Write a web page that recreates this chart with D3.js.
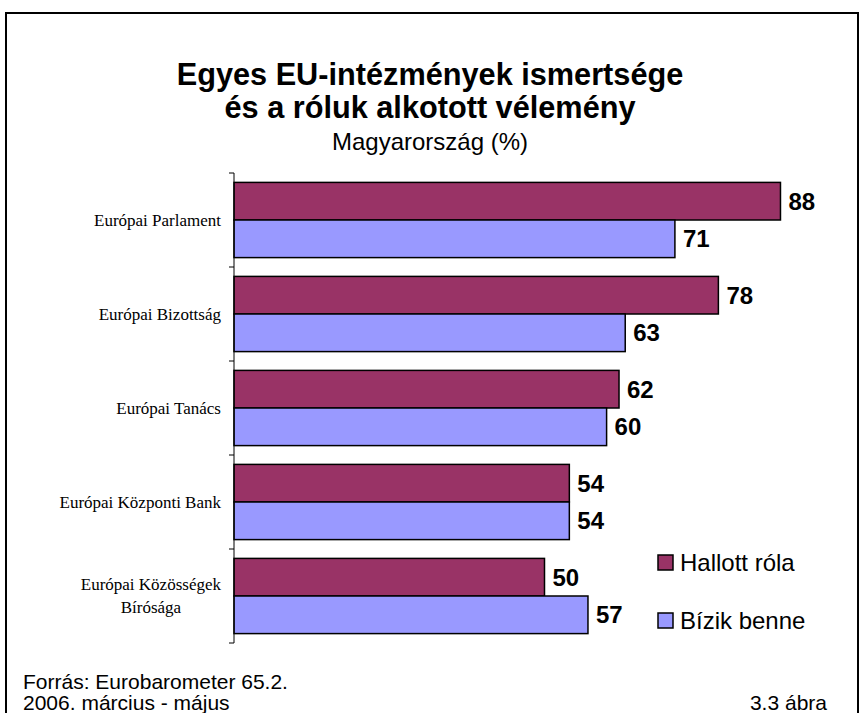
<!DOCTYPE html>
<html><head><meta charset="utf-8">
<script src="https://cdn.jsdelivr.net/npm/d3@7"></script>
<style>body{margin:0;background:#fff}svg{display:block}</style>
</head><body>
<script>
const categories = [["Európai Parlament"],["Európai Bizottság"],["Európai Tanács"],["Európai Központi Bank"],["Európai Közösségek","Bírósága"]];
const seriesNames = ["Hallott róla","Bízik benne"];
const hallott = [88,78,62,54,50];
const bizik = [71,63,60,54,57];
const colors = ["#993366","#9999FF"];

const W=859,H=713;
const sans="Liberation Sans, Arial, sans-serif";
const svg=d3.select("body").append("svg").attr("width",W).attr("height",H);
svg.append("rect").attr("x",6).attr("y",13).attr("width",852).attr("height",720)
  .attr("fill","#fff").attr("stroke","#000").attr("stroke-width",2);

const title=svg.append("g").attr("font-family",sans).attr("text-anchor","middle");
title.append("text").attr("x",430).attr("y",85).attr("font-size",30.7).attr("font-weight","bold").text("Egyes EU-intézmények ismertsége");
title.append("text").attr("x",430).attr("y",118).attr("font-size",30.7).attr("font-weight","bold").text("és a róluk alkotott vélemény");
title.append("text").attr("x",430).attr("y",150).attr("font-size",24).text("Magyarország (%)");

const x=d3.scaleLinear().domain([0,100]).range([234,855]);
const y=d3.scaleBand().domain(d3.range(categories.length)).range([173,643]).paddingInner(0.2).paddingOuter(0.1);
const yAxis=d3.scaleBand().domain(d3.range(categories.length)).range([173,643]);
const sub=d3.scaleBand().domain([0,1]).range([0,y.bandwidth()]);

const data=categories.map((c,i)=>({i,vals:[hallott[i],bizik[i]]}));
const g=svg.append("g");
data.forEach(d=>{
  d.vals.forEach((v,s)=>{
    g.append("rect").attr("x",x(0)).attr("y",y(d.i)+sub(s))
      .attr("width",x(v)-x(0)).attr("height",sub.bandwidth())
      .attr("fill",colors[s]).attr("stroke","#000").attr("stroke-width",1.5);
    g.append("text").attr("x",x(v)+8).attr("y",y(d.i)+sub(s)+sub.bandwidth()/2)
      .attr("dy","0.36em").attr("font-family",sans)
      .attr("font-size",24).attr("font-weight","bold").text(v);
  });
});

// axis
const ax=svg.append("g");
ax.append("line").attr("x1",234).attr("x2",234).attr("y1",173).attr("y2",643).attr("stroke","#000");
const tickYs=yAxis.domain().map(i=>yAxis(i)).concat([643]);
ax.selectAll(".t").data(tickYs).enter().append("line").attr("x1",229).attr("x2",234)
  .attr("y1",d=>d).attr("y2",d=>d).attr("stroke","#000");

categories.forEach((c,i)=>{
  const cy=yAxis(i)+yAxis.bandwidth()/2;
  const t=svg.append("text").attr("font-family","Liberation Serif, Times New Roman, serif").attr("font-size",17).attr("fill","#000");
  if(c.length===1){
    t.attr("x",221).attr("y",cy).attr("dy","0.35em").attr("text-anchor","end").text(c[0]);
  } else {
    t.attr("text-anchor","middle");
    const spans=c.map((line,k)=>t.append("tspan").attr("y",cy+(k-(c.length-1)/2)*23).attr("dy","0.35em").text(line));
    const maxW=d3.max(spans,s=>s.node().getComputedTextLength());
    spans.forEach(s=>s.attr("x",221-maxW/2));
  }
});

// legend
const leg=svg.append("g");
seriesNames.forEach((n,s)=>{
  const ly=555+s*58;
  leg.append("rect").attr("x",658).attr("y",ly).attr("width",15).attr("height",15)
    .attr("fill",colors[s]).attr("stroke","#000").attr("stroke-width",1.5);
  leg.append("text").attr("x",680).attr("y",ly+7.5).attr("dy","0.36em")
    .attr("font-family",sans).attr("font-size",24).text(n);
});

// footer
const f=svg.append("g").attr("font-family",sans).attr("font-size",21);
f.append("text").attr("x",23).attr("y",689).text("Forrás: Eurobarometer 65.2.");
f.append("text").attr("x",23).attr("y",710).text("2006. március - május");
f.append("text").attr("x",827).attr("y",710).attr("text-anchor","end").text("3.3 ábra");
</script>
</body></html>
